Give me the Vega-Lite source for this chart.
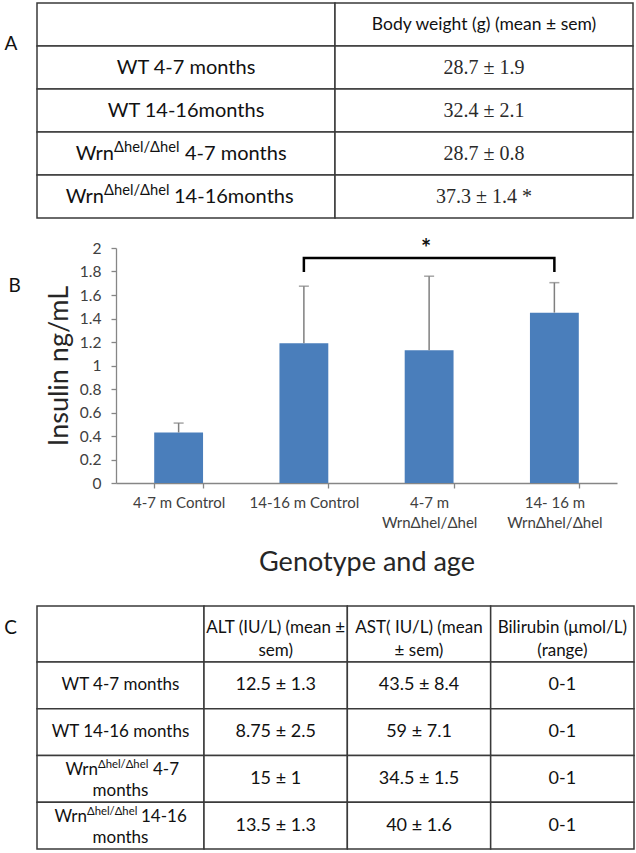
{
  "$schema": "https://vega.github.io/schema/vega-lite/v6.json",
  "background": "white",
  "padding": {"left": 4, "top": 2, "right": 0, "bottom": 0},
  "config": {
    "view": {"stroke": null},
    "font": "Lato",
    "axis": {"labelFont": "Lato", "titleFont": "Lato", "titleFontWeight": "normal", "grid": false, "domainColor": "#868686", "tickColor": "#868686", "domainWidth": 1.3, "tickWidth": 1.3, "labelColor": "#404040", "titleColor": "#262626"}
  },
  "datasets": {
    "tableA": [
      {"row": "h", "col": "label", "text": "", "letter": "A"},
      {"row": "h", "col": "value", "text": "Body weight (g) (mean ± sem)"},
      {"row": "r1", "col": "label", "text": "WT 4-7 months"},
      {"row": "r1", "col": "value", "text": "28.7 ± 1.9"},
      {"row": "r2", "col": "label", "text": "WT 14-16months"},
      {"row": "r2", "col": "value", "text": "32.4 ± 2.1"},
      {"row": "r3", "col": "label", "text": "Wrn", "sup": "Δhel/Δhel", "rest": "4-7 months"},
      {"row": "r3", "col": "value", "text": "28.7 ± 0.8"},
      {"row": "r4", "col": "label", "text": "Wrn", "sup": "Δhel/Δhel", "rest": "14-16months"},
      {"row": "r4", "col": "value", "text": "37.3 ± 1.4 *"}
    ],
    "insulin": [
      {"group": "4-7 m Control", "mean": 0.43, "upper": 0.51},
      {"group": "14-16 m Control", "mean": 1.19, "upper": 1.675},
      {"group": "4-7 m WrnΔhel/Δhel", "mean": 1.13, "upper": 1.76},
      {"group": "14- 16 m WrnΔhel/Δhel", "mean": 1.45, "upper": 1.705}
    ],
    "bracket": [
      {"group": "14-16 m Control", "level": 1.795, "step": 1},
      {"group": "14-16 m Control", "level": 1.915, "step": 2},
      {"group": "14- 16 m WrnΔhel/Δhel", "level": 1.915, "step": 3},
      {"group": "14- 16 m WrnΔhel/Δhel", "level": 1.795, "step": 4}
    ],
    "star": [{"group": "4-7 m WrnΔhel/Δhel", "level": 1.92, "label": "*"}],
    "letterB": [{"group": "4-7 m Control", "level": 1.68, "label": "B"}],
    "cHeadLabel": [{"row": "h", "col": "label", "letter": "C"}],
    "cHead": [
      {"row": "h", "col": "alt", "text": "ALT (IU/L) (mean ±\nsem)"},
      {"row": "h", "col": "ast", "text": "AST( IU/L)  (mean\n± sem)"},
      {"row": "h", "col": "bili", "text": "Bilirubin (μmol/L)\n(range)"}
    ],
    "cBodyLabel": [
      {"row": "b1", "col": "label", "text": "WT 4-7 months"},
      {"row": "b2", "col": "label", "text": "WT 14-16 months"},
      {"row": "b3", "col": "label", "text": "Wrn", "sup": "Δhel/Δhel", "rest": "4-7", "line2": "months"},
      {"row": "b4", "col": "label", "text": "Wrn", "sup": "Δhel/Δhel", "rest": "14-16", "line2": "months"}
    ],
    "cBody": [
      {"row": "b1", "col": "alt", "text": "12.5 ± 1.3"},
      {"row": "b1", "col": "ast", "text": "43.5 ± 8.4"},
      {"row": "b1", "col": "bili", "text": "0-1"},
      {"row": "b2", "col": "alt", "text": "8.75 ± 2.5"},
      {"row": "b2", "col": "ast", "text": "59 ± 7.1"},
      {"row": "b2", "col": "bili", "text": "0-1"},
      {"row": "b3", "col": "alt", "text": "15 ± 1"},
      {"row": "b3", "col": "ast", "text": "34.5 ± 1.5"},
      {"row": "b3", "col": "bili", "text": "0-1"},
      {"row": "b4", "col": "alt", "text": "13.5 ± 1.3"},
      {"row": "b4", "col": "ast", "text": "40 ± 1.6"},
      {"row": "b4", "col": "bili", "text": "0-1"}
    ]
  },
  "concat": [
    {
      "width": 596,
      "height": 215,
      "data": {"name": "tableA"},
      "encoding": {
        "x": {"field": "col", "type": "nominal", "sort": ["label", "value"], "scale": {"paddingInner": 0, "paddingOuter": 0}, "axis": null},
        "y": {"field": "row", "type": "nominal", "sort": ["h", "r1", "r2", "r3", "r4"], "scale": {"paddingInner": 0, "paddingOuter": 0}, "axis": null}
      },
      "layer": [
        {"mark": {"type": "rect", "fill": "white", "stroke": "#3a3a3a", "strokeWidth": 1.5}},
        {"transform": [{"filter": "datum.col == 'label' && !datum.sup"}], "mark": {"type": "text", "font": "Lato", "fontSize": 20, "color": "#111111"}, "encoding": {"text": {"field": "text", "type": "nominal"}}},
        {"transform": [{"filter": "datum.col == 'value' && datum.row != 'h'"}], "mark": {"type": "text", "font": "Liberation Serif", "fontSize": 20, "color": "#2a2a2a"}, "encoding": {"text": {"field": "text", "type": "nominal"}}},
        {"transform": [{"filter": "datum.col == 'value' && datum.row == 'h'"}], "mark": {"type": "text", "font": "Lato", "fontSize": 17.5, "color": "#111111"}, "encoding": {"text": {"field": "text", "type": "nominal"}}},
        {"transform": [{"filter": "datum.col == 'label' && datum.row == 'r3'"}], "mark": {"type": "text", "font": "Lato", "fontSize": 20, "align": "right", "dx": -72, "color": "#111111"}, "encoding": {"text": {"field": "text", "type": "nominal"}}},
        {"transform": [{"filter": "datum.col == 'label' && datum.row == 'r3'"}], "mark": {"type": "text", "font": "Lato", "fontSize": 14.7, "align": "left", "dx": -72, "dy": -6, "color": "#111111"}, "encoding": {"text": {"field": "sup", "type": "nominal"}}},
        {"transform": [{"filter": "datum.col == 'label' && datum.row == 'r3'"}], "mark": {"type": "text", "font": "Lato", "fontSize": 20, "align": "left", "dx": -1, "color": "#111111"}, "encoding": {"text": {"field": "rest", "type": "nominal"}}},
        {"transform": [{"filter": "datum.col == 'label' && datum.row == 'r4'"}], "mark": {"type": "text", "font": "Lato", "fontSize": 20, "align": "right", "dx": -82, "color": "#111111"}, "encoding": {"text": {"field": "text", "type": "nominal"}}},
        {"transform": [{"filter": "datum.col == 'label' && datum.row == 'r4'"}], "mark": {"type": "text", "font": "Lato", "fontSize": 14.7, "align": "left", "dx": -82, "dy": -6, "color": "#111111"}, "encoding": {"text": {"field": "sup", "type": "nominal"}}},
        {"transform": [{"filter": "datum.col == 'label' && datum.row == 'r4'"}], "mark": {"type": "text", "font": "Lato", "fontSize": 20, "align": "left", "dx": -12, "color": "#111111"}, "encoding": {"text": {"field": "rest", "type": "nominal"}}},
        {"transform": [{"filter": "datum.letter"}], "mark": {"type": "text", "font": "Lato", "fontSize": 19, "dx": -175, "dy": 19, "color": "#111111"}, "encoding": {"text": {"field": "letter", "type": "nominal"}}}
      ]
    },
    {
      "concat": [
        {
          "width": 580,
          "height": 235,
          "encoding": {
            "x": {
              "field": "group", "type": "nominal",
              "sort": ["4-7 m Control", "14-16 m Control", "4-7 m WrnΔhel/Δhel", "14- 16 m WrnΔhel/Δhel"],
              "scale": {"range": [79, 580], "paddingInner": 0.61, "paddingOuter": 0.305},
              "title": "Genotype and age",
              "axis": {
                "titleFontSize": 27, "titlePadding": 19, "labelFontSize": 15, "labelAngle": 0, "labelPadding": 7,
                "labelLineHeight": 20, "tickBand": "extent", "tickSize": 5,
                "labelExpr": "indexof(datum.label, ' Wrn') > 0 ? [substring(datum.label, 0, indexof(datum.label, ' Wrn')), substring(datum.label, indexof(datum.label, ' Wrn') + 1)] : datum.label"
              }
            }
          },
          "layer": [
            {
              "data": {"name": "insulin"},
              "mark": {"type": "bar", "color": "#4a7ebb"},
              "encoding": {
                "y": {
                  "field": "mean", "type": "quantitative", "title": "Insulin ng/mL",
                  "scale": {"domain": [0, 2], "nice": false},
                  "axis": {"values": [0, 0.2, 0.4, 0.6, 0.8, 1, 1.2, 1.4, 1.6, 1.8, 2], "format": "~g", "labelOverlap": false, "labelFontSize": 15.5, "labelPadding": 10, "tickSize": 5, "titleFontSize": 27, "titlePadding": 6, "offset": -79}
                }
              }
            },
            {
              "data": {"name": "insulin"},
              "mark": {"type": "rule", "color": "#7f7f7f", "strokeWidth": 1.5},
              "encoding": {
                "y": {"field": "mean", "type": "quantitative", "title": "Insulin ng/mL",
                  "axis": {"values": [0, 0.2, 0.4, 0.6, 0.8, 1, 1.2, 1.4, 1.6, 1.8, 2], "format": "~g", "labelOverlap": false, "labelFontSize": 15.5, "labelPadding": 10, "tickSize": 5, "titleFontSize": 27, "titlePadding": 6, "offset": -79}},
                "y2": {"field": "upper"}
              }
            },
            {
              "data": {"name": "insulin"},
              "mark": {"type": "tick", "color": "#7f7f7f", "thickness": 1.5, "size": 10},
              "encoding": {
                "y": {"field": "upper", "type": "quantitative", "title": "Insulin ng/mL",
                  "axis": {"values": [0, 0.2, 0.4, 0.6, 0.8, 1, 1.2, 1.4, 1.6, 1.8, 2], "format": "~g", "labelOverlap": false, "labelFontSize": 15.5, "labelPadding": 10, "tickSize": 5, "titleFontSize": 27, "titlePadding": 6, "offset": -79}}
              }
            },
            {
              "data": {"name": "bracket"},
              "mark": {"type": "line", "color": "black", "strokeWidth": 2.5, "strokeJoin": "miter", "strokeCap": "butt"},
              "encoding": {
                "y": {"field": "level", "type": "quantitative", "title": "Insulin ng/mL",
                  "axis": {"values": [0, 0.2, 0.4, 0.6, 0.8, 1, 1.2, 1.4, 1.6, 1.8, 2], "format": "~g", "labelOverlap": false, "labelFontSize": 15.5, "labelPadding": 10, "tickSize": 5, "titleFontSize": 27, "titlePadding": 6, "offset": -79}},
                "order": {"field": "step", "type": "quantitative"}
              }
            },
            {
              "data": {"name": "star"},
              "mark": {"type": "text", "font": "Lato", "fontSize": 24, "fontWeight": "bold", "baseline": "alphabetic", "dx": -3, "color": "#111111"},
              "encoding": {
                "y": {"field": "level", "type": "quantitative", "title": "Insulin ng/mL",
                  "axis": {"values": [0, 0.2, 0.4, 0.6, 0.8, 1, 1.2, 1.4, 1.6, 1.8, 2], "format": "~g", "labelOverlap": false, "labelFontSize": 15.5, "labelPadding": 10, "tickSize": 5, "titleFontSize": 27, "titlePadding": 6, "offset": -79}},
                "text": {"field": "label", "type": "nominal"}
              }
            },
            {
              "data": {"name": "letterB"},
              "mark": {"type": "text", "font": "Lato", "fontSize": 19, "dx": -164, "color": "#111111"},
              "encoding": {
                "y": {"field": "level", "type": "quantitative", "title": "Insulin ng/mL",
                  "axis": {"values": [0, 0.2, 0.4, 0.6, 0.8, 1, 1.2, 1.4, 1.6, 1.8, 2], "format": "~g", "labelOverlap": false, "labelFontSize": 15.5, "labelPadding": 10, "tickSize": 5, "titleFontSize": 27, "titlePadding": 6, "offset": -79}},
                "text": {"field": "label", "type": "nominal"}
              }
            }
          ]
        },
        {
          "concat": [
            {
              "width": 167,
              "height": 56,
              "data": {"name": "cHeadLabel"},
              "encoding": {
                "x": {"field": "col", "type": "nominal", "scale": {"paddingInner": 0, "paddingOuter": 0}, "axis": null},
                "y": {"field": "row", "type": "nominal", "scale": {"paddingInner": 0, "paddingOuter": 0}, "axis": null}
              },
              "layer": [
                {"mark": {"type": "rect", "fill": "white", "stroke": "#3a3a3a", "strokeWidth": 1.5}},
                {"mark": {"type": "text", "font": "Lato", "fontSize": 19, "dx": -110, "dy": -6, "color": "#111111"}, "encoding": {"text": {"field": "letter", "type": "nominal"}}}
              ]
            },
            {
              "width": 430,
              "height": 56,
              "data": {"name": "cHead"},
              "encoding": {
                "x": {"field": "col", "type": "nominal", "sort": ["alt", "ast", "bili"], "scale": {"paddingInner": 0, "paddingOuter": 0}, "axis": null},
                "y": {"field": "row", "type": "nominal", "scale": {"paddingInner": 0, "paddingOuter": 0}, "axis": null}
              },
              "layer": [
                {"mark": {"type": "rect", "fill": "white", "stroke": "#3a3a3a", "strokeWidth": 1.5}},
                {"mark": {"type": "text", "font": "Lato", "fontSize": 17, "lineBreak": "\n", "lineHeight": 23, "dy": -6, "color": "#111111"}, "encoding": {"text": {"field": "text", "type": "nominal"}}}
              ]
            },
            {
              "width": 167,
              "height": 187,
              "data": {"name": "cBodyLabel"},
              "encoding": {
                "x": {"field": "col", "type": "nominal", "scale": {"paddingInner": 0, "paddingOuter": 0}, "axis": null},
                "y": {"field": "row", "type": "nominal", "sort": ["b1", "b2", "b3", "b4"], "scale": {"paddingInner": 0, "paddingOuter": 0}, "axis": null}
              },
              "layer": [
                {"mark": {"type": "rect", "fill": "white", "stroke": "#3a3a3a", "strokeWidth": 1.5}},
                {"transform": [{"filter": "!datum.sup"}], "mark": {"type": "text", "font": "Lato", "fontSize": 17, "color": "#111111"}, "encoding": {"text": {"field": "text", "type": "nominal"}}},
                {"transform": [{"filter": "datum.row == 'b3'"}], "mark": {"type": "text", "font": "Lato", "fontSize": 17, "align": "right", "dx": -22.5, "dy": -9, "color": "#111111"}, "encoding": {"text": {"field": "text", "type": "nominal"}}},
                {"transform": [{"filter": "datum.row == 'b3'"}], "mark": {"type": "text", "font": "Lato", "fontSize": 11.3, "align": "left", "dx": -22.5, "dy": -14, "color": "#111111"}, "encoding": {"text": {"field": "sup", "type": "nominal"}}},
                {"transform": [{"filter": "datum.row == 'b3'"}], "mark": {"type": "text", "font": "Lato", "fontSize": 17, "align": "left", "dx": 32.5, "dy": -9, "color": "#111111"}, "encoding": {"text": {"field": "rest", "type": "nominal"}}},
                {"transform": [{"filter": "datum.row == 'b4'"}], "mark": {"type": "text", "font": "Lato", "fontSize": 17, "align": "right", "dx": -33.5, "dy": -9, "color": "#111111"}, "encoding": {"text": {"field": "text", "type": "nominal"}}},
                {"transform": [{"filter": "datum.row == 'b4'"}], "mark": {"type": "text", "font": "Lato", "fontSize": 11.3, "align": "left", "dx": -33.5, "dy": -14, "color": "#111111"}, "encoding": {"text": {"field": "sup", "type": "nominal"}}},
                {"transform": [{"filter": "datum.row == 'b4'"}], "mark": {"type": "text", "font": "Lato", "fontSize": 17, "align": "left", "dx": 20.5, "dy": -9, "color": "#111111"}, "encoding": {"text": {"field": "rest", "type": "nominal"}}},
                {"transform": [{"filter": "datum.line2"}], "mark": {"type": "text", "font": "Lato", "fontSize": 17, "dy": 12, "color": "#111111"}, "encoding": {"text": {"field": "line2", "type": "nominal"}}}
              ]
            },
            {
              "width": 430,
              "height": 187,
              "data": {"name": "cBody"},
              "encoding": {
                "x": {"field": "col", "type": "nominal", "sort": ["alt", "ast", "bili"], "scale": {"paddingInner": 0, "paddingOuter": 0}, "axis": null},
                "y": {"field": "row", "type": "nominal", "sort": ["b1", "b2", "b3", "b4"], "scale": {"paddingInner": 0, "paddingOuter": 0}, "axis": null}
              },
              "layer": [
                {"mark": {"type": "rect", "fill": "white", "stroke": "#3a3a3a", "strokeWidth": 1.5}},
                {"mark": {"type": "text", "font": "Lato", "fontSize": 18, "color": "#111111"}, "encoding": {"text": {"field": "text", "type": "nominal"}}}
              ]
            }
          ],
          "columns": 2,
          "spacing": 0,
          "bounds": "flush",
          "align": "each"
        }
      ],
      "columns": 1,
      "spacing": 30,
      "align": "none"
    }
  ],
  "columns": 1,
  "spacing": 19,
  "align": "none"
}
